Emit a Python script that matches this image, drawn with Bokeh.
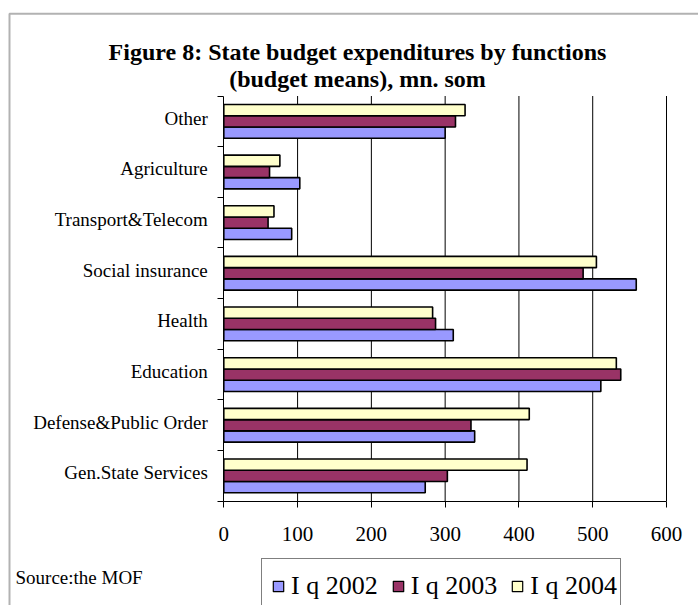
from bokeh.plotting import figure
from bokeh.models import (FixedTicker, Range1d, Legend, LegendItem, Label,
                          BoxAnnotation, ColumnDataSource)
from bokeh.transform import dodge
from bokeh.embed import file_html
from bokeh.resources import INLINE

# ---- data ----
categories = ["Gen.State Services", "Defense&Public Order", "Education", "Health",
              "Social insurance", "Transport&Telecom", "Agriculture", "Other"]
series_names = ["I q 2002", "I q 2003", "I q 2004"]
q2002 = [273, 340, 511, 311, 559, 92, 103, 300]
q2003 = [303, 335, 538, 287, 487, 60, 62, 314]
q2004 = [411, 414, 532, 283, 505, 68, 76, 327]
x_ticks = [0, 100, 200, 300, 400, 500, 600]
title_lines = ["Figure 8: State budget expenditures by functions",
               "(budget means), mn. som"]
source_text = "Source:the MOF"

colors = ["#9999FF", "#993366", "#FFFFCC"]
SERIF = "Liberation Serif"

# ---- layout (pixels) ----
W, H = 698, 605
X0_PX, XMAX_PX = 223.3, 666.0      # pixel of value 0 and of value 600
YB_PX, YT_PX = 500.7, 95.5         # pixel of bottom and top category boundary
n = len(categories)
xmax = x_ticks[-1]
sx = xmax / (XMAX_PX - X0_PX)
sy = (YB_PX - YT_PX) / n
x_range = Range1d(-X0_PX * sx, xmax + (W - XMAX_PX) * sx)
y_range = Range1d(-(H - YB_PX) / sy, n + YT_PX / sy)

centers = [i + 0.5 for i in range(n)]
label_pos = [c + 0.06 for c in centers]   # category labels sit slightly above centre
src = ColumnDataSource(dict(y=centers, q2002=q2002, q2003=q2003, q2004=q2004))

p = figure(width=W, height=H, x_range=x_range, y_range=y_range,
           output_backend="svg", toolbar_location=None, min_border=0)
p.title.visible = False
p.outline_line_color = None
p.background_fill_color = "white"
p.border_fill_color = "white"
p.xgrid.visible = False
p.ygrid.visible = False

# vertical grid lines at the value ticks
p.segment(x0=x_ticks[1:], x1=x_ticks[1:], y0=[0] * (len(x_ticks) - 1), y1=[n] * (len(x_ticks) - 1),
          line_color="black", line_width=1, level="underlay")

bar_h = 0.222
legend_proxies = []
nan = float("nan")
for k, (col, color) in enumerate(zip(["q2002", "q2003", "q2004"], colors)):
    off = (k - 1) * bar_h
    p.hbar(y=dodge("y", off, range=p.y_range), right=col, left=0, height=bar_h, source=src,
           fill_color=color, line_color="black", line_width=1.6)
    # square legend key (its single point is NaN, so nothing is drawn in the plot)
    proxy = p.scatter(x=[nan], y=[nan], marker="square", fill_color=color,
                      line_color="black", line_width=1.2)
    legend_proxies.append(proxy)

# x axis
xa = p.xaxis[0]
xa.fixed_location = 0
xa.bounds = (0, xmax)
xa.ticker = FixedTicker(ticks=x_ticks)
xa.major_label_text_font = SERIF
xa.major_label_text_font_size = "21px"
xa.major_label_text_color = "black"
xa.major_tick_out = 6
xa.major_tick_in = 0
xa.minor_tick_line_color = None
xa.axis_line_color = "black"
xa.major_tick_line_color = "black"
xa.major_label_standoff = 20

# y axis: labels at category centres, tick marks at category boundaries
ya = p.yaxis[0]
ya.fixed_location = 0
ya.bounds = (0, n)
ya.ticker = FixedTicker(ticks=label_pos, minor_ticks=list(range(n + 1)))
ya.major_label_overrides = {c: cat for c, cat in zip(label_pos, categories)}
ya.major_label_text_font = SERIF
ya.major_label_text_font_size = "19px"
ya.major_label_text_color = "black"
ya.major_tick_line_color = None
ya.major_tick_out = 0
ya.major_tick_in = 0
ya.minor_tick_line_color = "black"
ya.minor_tick_out = 6
ya.minor_tick_in = 0
ya.axis_line_color = "black"
ya.major_label_standoff = 10

legend = Legend(items=[LegendItem(label=nm, renderers=[r]) for nm, r in zip(series_names, legend_proxies)],
                orientation="horizontal", location=(261, H - 614),
                label_text_font=SERIF, label_text_font_size="26px", label_text_color="black",
                glyph_width=26, glyph_height=26, label_standoff=0, spacing=7,
                padding=3, label_height=48, margin=0,
                border_line_color="black", border_line_width=1,
                background_fill_color="white", background_fill_alpha=1)
p.add_layout(legend, "center")

for txt, base in zip(title_lines, [51.5, 78.5]):
    p.add_layout(Label(x=357, y=H - base, x_units="screen", y_units="screen", text=txt,
                       text_align="center", text_baseline="alphabetic", text_color="black",
                       text_font=SERIF, text_font_style="bold", text_font_size="24px"))

p.add_layout(Label(x=15, y=H - 577, x_units="screen", y_units="screen", text=source_text,
                   text_align="left", text_baseline="alphabetic", text_color="black",
                   text_font=SERIF, text_font_size="19px"))

p.add_layout(BoxAnnotation(left=9, right=W + 50, top=H - 13.3, bottom=-50,
                           left_units="screen", right_units="screen",
                           top_units="screen", bottom_units="screen",
                           fill_alpha=0, line_color="black", line_width=2))

open("out.html", "w").write(file_html(p, INLINE))
